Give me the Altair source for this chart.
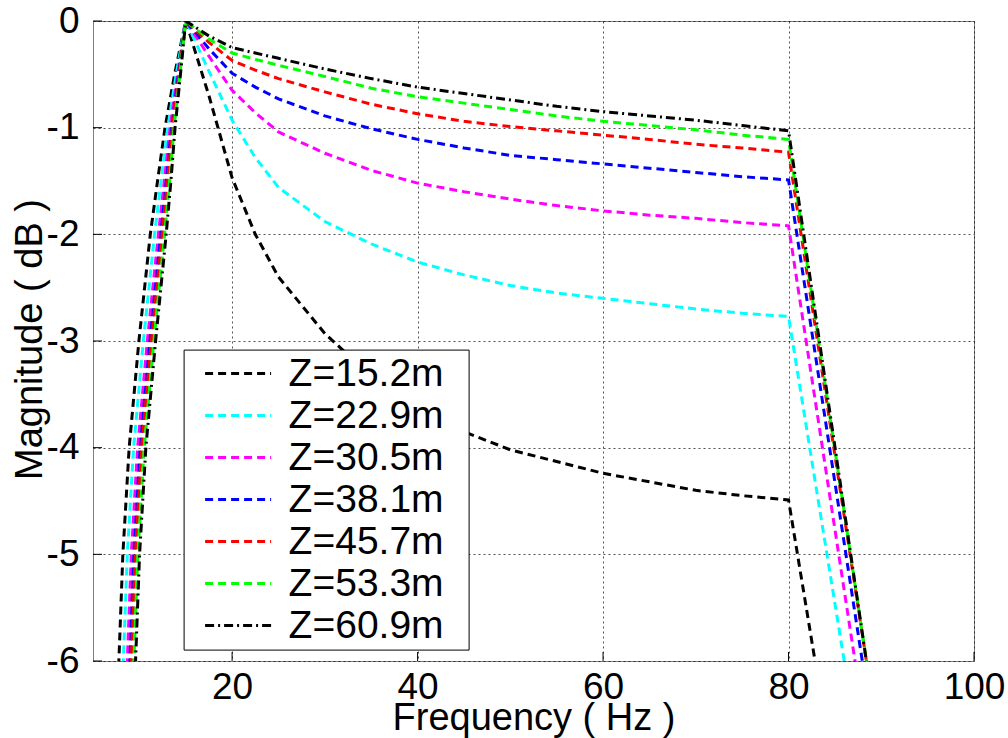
import altair as alt
import pandas as pd

# Seven depths, each drawn as a normalised magnitude response
SERIES = ["Z=15.2m", "Z=22.9m", "Z=30.5m", "Z=38.1m", "Z=45.7m", "Z=53.3m", "Z=60.9m"]
COLORS = ["#000000", "#00ffff", "#ff00ff", "#0000ff", "#ff0000", "#00ff00", "#000000"]
DASHES = [[8, 5], [8, 5], [8, 5], [8, 5], [8, 5], [8, 5], [9, 4, 2, 4]]

# Pass band: frequencies (Hz) and magnitudes (dB) per depth
PASS_FREQ = [15, 17.5, 20, 22.5, 25, 30, 35, 40, 45, 50, 55, 60, 65, 70, 75, 80]
PASS_DB = {
    "Z=15.2m": [0, -0.70, -1.47, -2.00, -2.40, -2.93, -3.33, -3.63, -3.85, -4.02, -4.13, -4.24, -4.32, -4.40, -4.45, -4.49],
    "Z=22.9m": [0, -0.47, -0.93, -1.28, -1.56, -1.88, -2.09, -2.26, -2.38, -2.48, -2.55, -2.60, -2.65, -2.70, -2.74, -2.77],
    "Z=30.5m": [0, -0.33, -0.65, -0.86, -1.04, -1.24, -1.40, -1.52, -1.60, -1.67, -1.73, -1.78, -1.82, -1.85, -1.89, -1.92],
    "Z=38.1m": [0, -0.26, -0.49, -0.62, -0.73, -0.89, -1.01, -1.11, -1.19, -1.26, -1.30, -1.34, -1.38, -1.42, -1.46, -1.49],
    "Z=45.7m": [0, -0.20, -0.37, -0.46, -0.54, -0.665, -0.78, -0.87, -0.94, -0.99, -1.03, -1.07, -1.11, -1.156, -1.19, -1.23],
    "Z=53.3m": [0, -0.17, -0.30, -0.36, -0.415, -0.52, -0.63, -0.71, -0.77, -0.83, -0.89, -0.94, -0.98, -1.02, -1.07, -1.11],
    "Z=60.9m": [0, -0.14, -0.25, -0.30, -0.35, -0.45, -0.54, -0.62, -0.68, -0.74, -0.80, -0.85, -0.89, -0.93, -0.98, -1.03],
}

# Low-frequency skirt: frequency (Hz) reached at each magnitude level (dB)
SKIRT_DB = [-8, -7, -6, -5, -4, -3, -2, -1.5, -1, -0.5]
SKIRT_FREQ = {
    "Z=15.2m": [7.15, 7.45, 7.79, 8.22, 8.90, 9.95, 11.18, 11.96, 12.77, 13.80],
    "Z=22.9m": [7.63, 7.93, 8.27, 8.70, 9.38, 10.43, 11.64, 12.34, 13.06, 13.97],
    "Z=30.5m": [8.06, 8.36, 8.70, 9.13, 9.81, 10.86, 12.05, 12.69, 13.32, 14.12],
    "Z=38.1m": [8.34, 8.64, 8.98, 9.41, 10.09, 11.14, 12.31, 12.91, 13.48, 14.22],
    "Z=45.7m": [8.49, 8.79, 9.13, 9.56, 10.24, 11.29, 12.46, 13.03, 13.57, 14.27],
    "Z=53.3m": [8.77, 9.07, 9.41, 9.84, 10.52, 11.57, 12.72, 13.26, 13.74, 14.37],
    "Z=60.9m": [8.95, 9.25, 9.59, 10.02, 10.70, 11.75, 12.89, 13.40, 13.85, 14.43],
}

# High-frequency cut: magnitude (dB) at 90 Hz per depth
EDGE_FREQ = 90
EDGE_DB = [-9.77, -8.15, -7.61, -7.16, -6.91, -6.93, -6.95]

X_TICKS = [20, 40, 60, 80, 100]
Y_TICKS = [-6, -5, -4, -3, -2, -1, 0]

FONT = "Liberation Sans"

rows = []
for i, name in enumerate(SERIES):
    for f, d in zip(SKIRT_FREQ[name], SKIRT_DB):
        rows.append((name, f, d))
    for f, d in zip(PASS_FREQ, PASS_DB[name]):
        rows.append((name, f, d))
    rows.append((name, EDGE_FREQ, EDGE_DB[i]))
df = pd.DataFrame(rows, columns=["series", "freq", "db"])

x_enc = alt.X(
    "freq:Q",
    scale=alt.Scale(domain=[5, 100], nice=False, zero=False),
    axis=alt.Axis(values=X_TICKS, title="Frequency ( Hz )", labelExpr="'' + datum.value",
                  labelPadding=8, labelFlush=False, titleY=38, titleBaseline="top"),
)
y_enc = alt.Y(
    "db:Q",
    scale=alt.Scale(domain=[-6, 0], nice=False, zero=False),
    axis=alt.Axis(values=Y_TICKS, title="Magnitude ( dB )", labelExpr="'' + datum.value",
                  labelPadding=14, labelFlush=False, titleX=-82, titleY=318,
                  titleBaseline="top", titleAngle=270, titleAlign="center"),
)

# label text keeps two no-break spaces (closed by a zero-width space) so the frame
# leaves some room to the right of the labels
legend = alt.Legend(
    title=None, orient="none", legendX=90.6, legendY=328.6,
    fillColor="white", strokeColor="#000000", padding=3,
    symbolType="stroke", symbolSize=4356, symbolStrokeWidth=3, symbolOffset=17,
    clipHeight=42, rowPadding=0,
    labelFontSize=39, labelFont=FONT, labelColor="#000000",
    labelOffset=16, labelLimit=400,
    labelExpr="datum.label + '\u00a0\u00a0\u200b'",
)

lines = alt.Chart(df).mark_line(clip=True, strokeWidth=3, strokeCap="butt").encode(
    x=x_enc,
    y=y_enc,
    color=alt.Color("series:N", scale=alt.Scale(domain=SERIES, range=COLORS), legend=legend),
    strokeDash=alt.StrokeDash("series:N", scale=alt.Scale(domain=SERIES, range=DASHES), legend=legend),
)

# inward tick marks along the bottom and left edges
x_ticks = alt.Chart(pd.DataFrame({"freq": X_TICKS})).mark_rule(color="#000000", strokeWidth=1).encode(
    x=x_enc, y=alt.value(640), y2=alt.value(631)
)
y_ticks = alt.Chart(pd.DataFrame({"db": Y_TICKS})).mark_rule(color="#000000", strokeWidth=1).encode(
    y=y_enc, x=alt.value(0), x2=alt.value(9)
)

chart = alt.layer(lines, x_ticks, y_ticks).properties(
    width=881, height=640,
    autosize=alt.AutoSizeParams(type="none"),
    padding={"left": 93, "top": 21, "right": 34, "bottom": 77},
    background="white",
).configure_view(
    stroke="#7f7f7f", strokeWidth=1
).configure_axis(
    labelFont=FONT, titleFont=FONT, labelFontSize=37, titleFontSize=38,
    labelColor="#000000", titleColor="#000000", titleFontWeight="normal",
    domain=False, ticks=False,
    grid=True, gridColor="#000000", gridDash=[2, 3], gridWidth=0.8, gridOpacity=0.85,
)

chart.save("out.html", embed_options={"renderer": "svg", "actions": False})
